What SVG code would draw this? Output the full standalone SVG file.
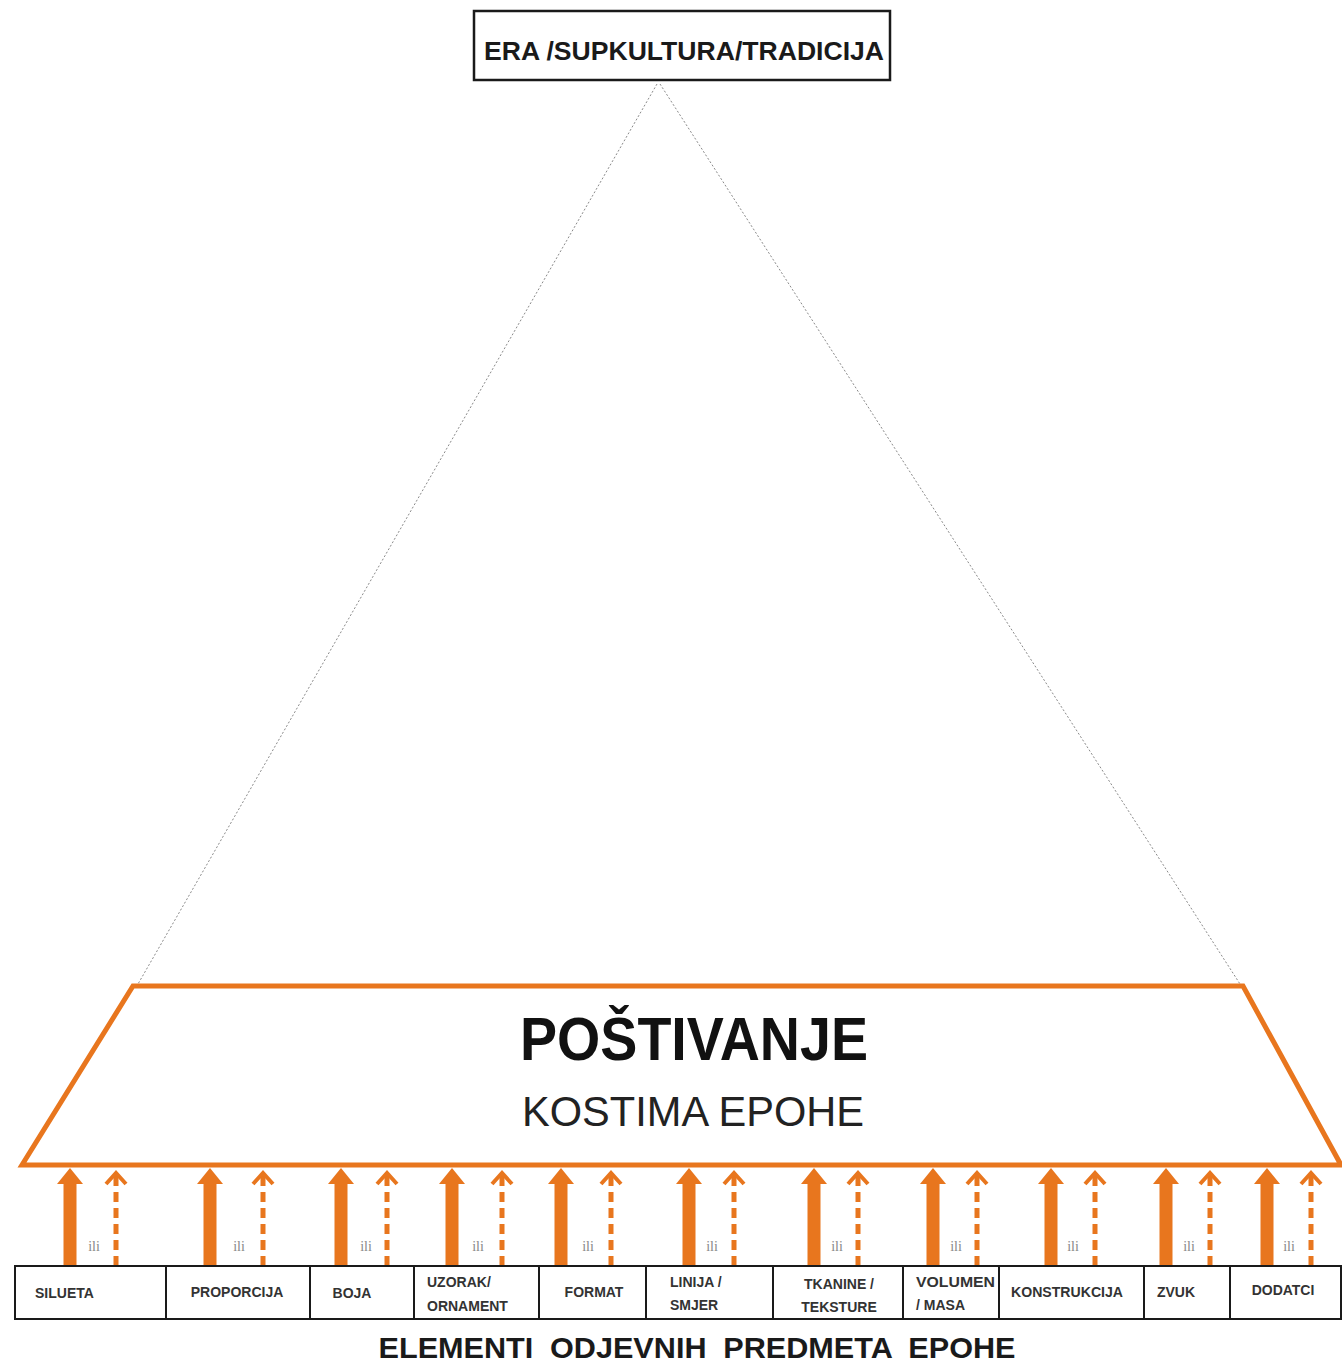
<svg xmlns="http://www.w3.org/2000/svg" xmlns:xlink="http://www.w3.org/1999/xlink" width="1342" height="1365" viewBox="0 0 1342 1365">
<style>
.box{fill:#fff;stroke:#1a1a1a;stroke-width:2}
.lbl{font-family:"Liberation Sans",Arial,sans-serif;font-weight:bold;font-size:14px;fill:#333}
.ili{font-family:"Liberation Serif",serif;font-size:14px;fill:#888}
.dash{stroke:#E8761E;stroke-width:5;stroke-dasharray:10 6;fill:none}
.chev{stroke:#E8761E;stroke-width:4;fill:none}
.tri{stroke:#8a8a8a;stroke-width:1;stroke-dasharray:2 2;fill:none}
</style>
<defs>
<path id="solid" d="M0,0 L13,16 L6.5,16 L6.5,98 L-6.5,98 L-6.5,16 L-13,16 Z" fill="#E8761E"/>
<g id="dashed">
<line x1="0" y1="6" x2="0" y2="96" class="dash"/>
<polyline points="-10,14 0,3 10,14" class="chev"/>
</g>
</defs>
<rect width="1342" height="1365" fill="#fff"/>

<g id="triangle">
<line x1="657" y1="84" x2="138" y2="984" class="tri"/>
<line x1="660" y1="84" x2="1240" y2="984" class="tri"/>
</g>

<g id="era">
<rect x="474" y="11" width="416" height="69" fill="#fff" stroke="#1a1a1a" stroke-width="2.5"/>
<text x="684" y="60" text-anchor="middle" font-family="Liberation Sans,Arial,sans-serif" font-weight="bold" font-size="25" fill="#1a1a1a" textLength="400" lengthAdjust="spacingAndGlyphs">ERA /SUPKULTURA/TRADICIJA</text>
</g>

<g id="postivanje">
<polygon points="133,986 1243,986 1341,1165 22,1165" fill="#fff" stroke="#E8761E" stroke-width="5" stroke-linejoin="miter"/>
<text x="694" y="1060" text-anchor="middle" font-family="Liberation Sans,Arial,sans-serif" font-weight="bold" font-size="62" fill="#111" textLength="348" lengthAdjust="spacingAndGlyphs">POŠTIVANJE</text>
<text x="693" y="1126" text-anchor="middle" font-family="Liberation Sans,Arial,sans-serif" font-size="43" fill="#222" textLength="342" lengthAdjust="spacingAndGlyphs">KOSTIMA EPOHE</text>
</g>

<g id="connectors">
<use xlink:href="#solid" x="70" y="1168"/><use xlink:href="#dashed" x="116" y="1170"/>
<use xlink:href="#solid" x="210" y="1168"/><use xlink:href="#dashed" x="263" y="1170"/>
<use xlink:href="#solid" x="341" y="1168"/><use xlink:href="#dashed" x="387" y="1170"/>
<use xlink:href="#solid" x="452" y="1168"/><use xlink:href="#dashed" x="502" y="1170"/>
<use xlink:href="#solid" x="561" y="1168"/><use xlink:href="#dashed" x="611" y="1170"/>
<use xlink:href="#solid" x="689" y="1168"/><use xlink:href="#dashed" x="734" y="1170"/>
<use xlink:href="#solid" x="814" y="1168"/><use xlink:href="#dashed" x="858" y="1170"/>
<use xlink:href="#solid" x="933" y="1168"/><use xlink:href="#dashed" x="977" y="1170"/>
<use xlink:href="#solid" x="1051" y="1168"/><use xlink:href="#dashed" x="1095" y="1170"/>
<use xlink:href="#solid" x="1166" y="1168"/><use xlink:href="#dashed" x="1210" y="1170"/>
<use xlink:href="#solid" x="1267" y="1168"/><use xlink:href="#dashed" x="1311" y="1170"/>
<g class="ili" text-anchor="middle">
<text x="94" y="1251">ili</text>
<text x="239" y="1251">ili</text>
<text x="366" y="1251">ili</text>
<text x="478" y="1251">ili</text>
<text x="588" y="1251">ili</text>
<text x="712" y="1251">ili</text>
<text x="837" y="1251">ili</text>
<text x="956" y="1251">ili</text>
<text x="1073" y="1251">ili</text>
<text x="1189" y="1251">ili</text>
<text x="1289" y="1251">ili</text>
</g>
</g>

<g id="elements">
<g id="n-silueta"><rect x="15" y="1266" width="151" height="53" class="box"/><text x="35" y="1298" class="lbl">SILUETA</text></g>
<g id="n-proporcija"><rect x="166" y="1266" width="144" height="53" class="box"/><text x="237" y="1297" text-anchor="middle" class="lbl">PROPORCIJA</text></g>
<g id="n-boja"><rect x="310" y="1266" width="104" height="53" class="box"/><text x="352" y="1298" text-anchor="middle" class="lbl">BOJA</text></g>
<g id="n-uzorak"><rect x="414" y="1266" width="125" height="53" class="box"/><text x="427" y="1287" class="lbl">UZORAK/</text><text x="427" y="1311" class="lbl">ORNAMENT</text></g>
<g id="n-format"><rect x="539" y="1266" width="107" height="53" class="box"/><text x="594" y="1297" text-anchor="middle" class="lbl">FORMAT</text></g>
<g id="n-linija"><rect x="646" y="1266" width="127" height="53" class="box"/><text x="670" y="1287" class="lbl">LINIJA /</text><text x="670" y="1310" class="lbl">SMJER</text></g>
<g id="n-tkanine"><rect x="773" y="1266" width="130" height="53" class="box"/><text x="839" y="1289" text-anchor="middle" class="lbl">TKANINE /</text><text x="839" y="1312" text-anchor="middle" class="lbl">TEKSTURE</text></g>
<g id="n-volumen"><rect x="903" y="1266" width="96" height="53" class="box"/><text x="916" y="1287" class="lbl" textLength="79" lengthAdjust="spacingAndGlyphs">VOLUMEN</text><text x="916" y="1310" class="lbl">/ MASA</text></g>
<g id="n-konstrukcija"><rect x="999" y="1266" width="145" height="53" class="box"/><text x="1067" y="1297" text-anchor="middle" class="lbl" textLength="112" lengthAdjust="spacingAndGlyphs">KONSTRUKCIJA</text></g>
<g id="n-zvuk"><rect x="1144" y="1266" width="86" height="53" class="box"/><text x="1176" y="1297" text-anchor="middle" class="lbl">ZVUK</text></g>
<g id="n-dodatci"><rect x="1230" y="1266" width="111" height="53" class="box"/><text x="1283" y="1295" text-anchor="middle" class="lbl">DODATCI</text></g>
</g>

<g id="title">
<text x="697" y="1358" text-anchor="middle" font-family="Liberation Sans,Arial,sans-serif" font-weight="bold" font-size="30" fill="#1a1a1a" word-spacing="8" textLength="637" lengthAdjust="spacingAndGlyphs">ELEMENTI  ODJEVNIH  PREDMETA  EPOHE</text>
</g>
</svg>
